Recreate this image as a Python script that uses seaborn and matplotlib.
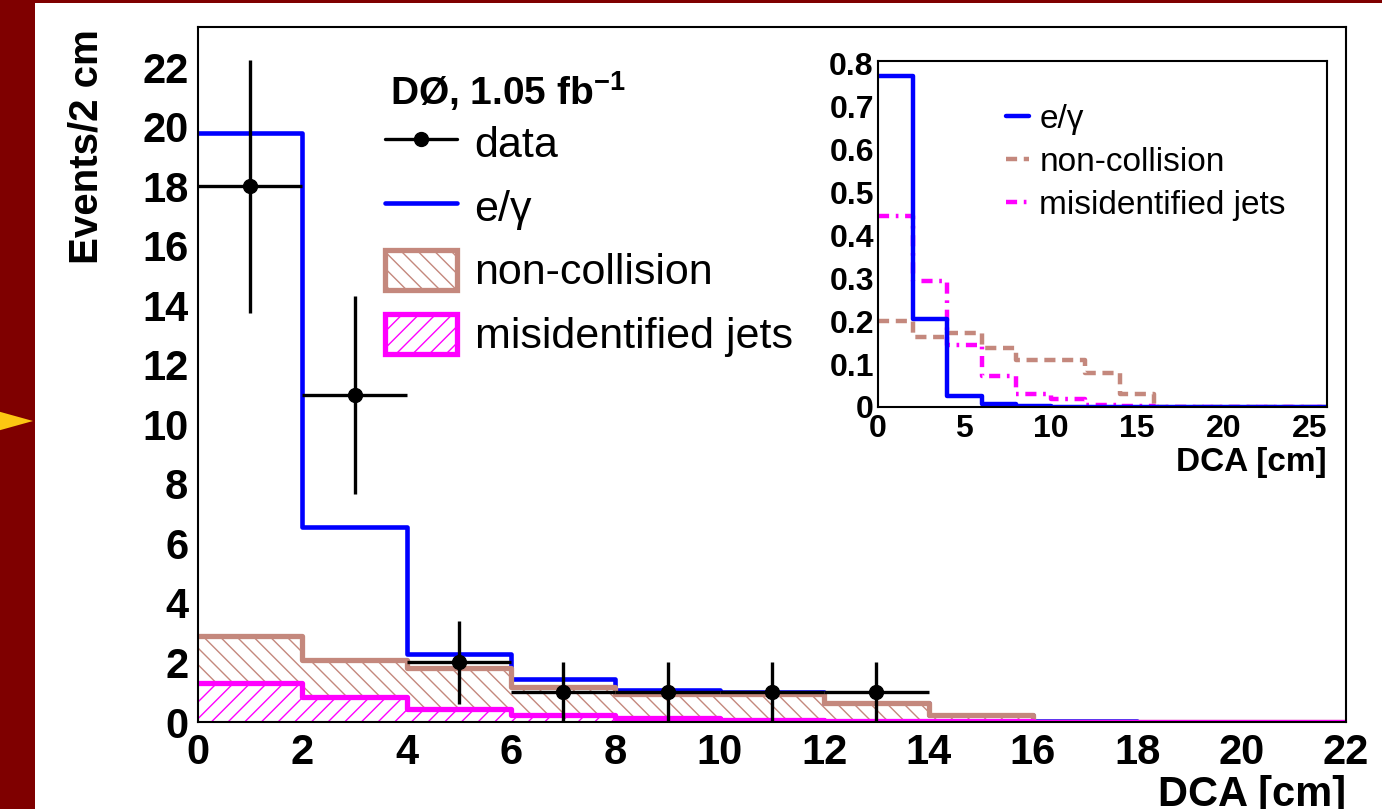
import numpy as np
import matplotlib
matplotlib.use("Agg")
import matplotlib.pyplot as plt
import matplotlib.patches as mpatches
from matplotlib.lines import Line2D
from matplotlib.ticker import MultipleLocator, FuncFormatter
import seaborn as sns

# ---- data ----
# main plot: 2 cm bins from 0 to 22
main_edges = [0, 2, 4, 6, 8, 10, 12, 14, 16, 18, 20, 22]
egamma_total = [19.8, 6.55, 2.3, 1.45, 1.07, 1.0, 0.63, 0.22, 0.02, 0.01, 0.01]
noncoll_total = [2.88, 2.08, 1.8, 1.18, 0.94, 0.94, 0.63, 0.22, 0.0, 0.0, 0.0]
misid_jets = [1.3, 0.85, 0.43, 0.22, 0.15, 0.08, 0.03, 0.02, 0.01, 0.01, 0.01]

data_x = [1, 3, 5, 7, 9, 11, 13]
data_y = [18, 11, 2, 1, 1, 1, 1]
data_err = [4.24, 3.32, 1.41, 1.0, 1.0, 1.0, 1.0]

# inset: normalised shapes, 2 cm bins from 0 to 26
ins_edges = [0, 2, 4, 6, 8, 10, 12, 14, 16, 18, 20, 22, 24, 26]
ins_egamma = [0.77, 0.205, 0.025, 0.007, 0.002, 0.001, 0, 0, 0, 0, 0, 0, 0]
ins_noncoll = [0.2, 0.163, 0.173, 0.138, 0.11, 0.11, 0.078, 0.03, 0, 0, 0, 0, 0]
ins_misid = [0.445, 0.293, 0.145, 0.073, 0.03, 0.019, 0.005, 0.002, 0, 0, 0, 0, 0]

BLUE = "#0000ff"
BROWN = "#c4887d"
MAGENTA = "#ff00ff"

sns.set_style("white")
plt.rcParams["font.family"] = ["Liberation Sans", "DejaVu Sans"]
plt.rcParams["mathtext.fontset"] = "custom"
plt.rcParams["mathtext.rm"] = "Liberation Sans"
plt.rcParams["mathtext.bf"] = "Liberation Sans:bold"
plt.rcParams["hatch.linewidth"] = 1.0
for key in ["text.color", "axes.labelcolor", "xtick.color", "ytick.color",
            "xtick.labelcolor", "ytick.labelcolor"]:
    plt.rcParams[key] = "black"

W, H = 1382, 809
fig = plt.figure(figsize=(W / 100, H / 100), dpi=100)
fig.patch.set_facecolor("#7f0000")
# white slide area and yellow pointer
fig.patches.append(mpatches.Rectangle((35 / W, 0), 1 - 35 / W, 1 - 3 / H,
                                      transform=fig.transFigure, facecolor="white",
                                      edgecolor="none", zorder=-10))
fig.patches.append(mpatches.Polygon([(-0.01, 1 - 408 / H), (33 / W, 1 - 421 / H),
                                     (-0.01, 1 - 434 / H)], closed=True,
                                    transform=fig.transFigure, facecolor="#fcc712",
                                    edgecolor="none", zorder=-5))


def px_rect(x0, y0, x1, y1):
    return [x0 / W, 1 - y1 / H, (x1 - x0) / W, (y1 - y0) / H]


ax = fig.add_axes(px_rect(198, 27, 1346, 722))
ax.set_facecolor("white")

centers = [(a + b) / 2 for a, b in zip(main_edges[:-1], main_edges[1:])]

# hatched areas
with plt.rc_context({"hatch.color": BROWN}):
    sns.histplot(x=centers, weights=noncoll_total, bins=main_edges, element="step",
                 fill=True, color="white", alpha=1, edgecolor=BROWN, linewidth=0,
                 hatch="\\\\", ax=ax)
with plt.rc_context({"hatch.color": MAGENTA}):
    sns.histplot(x=centers, weights=misid_jets, bins=main_edges, element="step",
                 fill=True, color="white", alpha=1, edgecolor=MAGENTA, linewidth=0,
                 hatch="//", ax=ax)

# outlines
sns.histplot(x=centers, weights=egamma_total, bins=main_edges, element="step",
             fill=False, color=BLUE, linewidth=3.3, ax=ax)
sns.histplot(x=centers, weights=noncoll_total, bins=main_edges, element="step",
             fill=False, color=BROWN, linewidth=3.8, ax=ax)
sns.histplot(x=centers, weights=misid_jets, bins=main_edges, element="step",
             fill=False, color=MAGENTA, linewidth=3.8, ax=ax)

ax.errorbar(data_x, data_y, xerr=1, yerr=data_err, fmt="o", color="black",
            ms=10, elinewidth=2.4, capsize=0, zorder=10)

ax.set_xlim(0, 22)
ax.set_ylim(0, 23.36)
ax.xaxis.set_major_locator(MultipleLocator(2))
ax.xaxis.set_minor_locator(MultipleLocator(0.5))
ax.yaxis.set_major_locator(MultipleLocator(2))
ax.yaxis.set_minor_locator(MultipleLocator(0.5))
ax.tick_params(which="both", direction="in", width=1.5, colors="black")
ax.tick_params(axis="y", which="major", length=23, pad=7, labelsize=30)
ax.tick_params(axis="y", which="minor", length=11)
ax.tick_params(axis="x", which="major", length=16, pad=8, labelsize=30)
ax.tick_params(axis="x", which="minor", length=7)
for lab in ax.get_xticklabels() + ax.get_yticklabels():
    lab.set_fontweight("bold")
for sp in ax.spines.values():
    sp.set_linewidth(1.5)
    sp.set_color("black")
ax.set_xlabel("")
ax.set_ylabel("")

fig.text(1346 / W, 1 - 775 / H, "DCA [cm]", ha="right", va="top",
         fontsize=30, fontweight="bold")
fig.text(86 / W, 1 - 29 / H, "Events/2 cm", ha="center", va="top", rotation=90,
         fontsize=29, fontweight="bold")

# main legend
fig.text(390 / W, 1 - 91 / H, r"DØ, 1.05 fb$^{\mathbf{-1}}$", ha="left", va="center",
         fontsize=28, fontweight="bold")
handles = [
    Line2D([], [], color="black", lw=2.4, marker="o", ms=10),
    Line2D([], [], color=BLUE, lw=3.3),
    mpatches.Patch(facecolor="white", edgecolor=BROWN, hatch="\\\\", lw=3.8),
    mpatches.Patch(facecolor="white", edgecolor=MAGENTA, hatch="//", lw=3.8),
]
labels = ["data", "e/γ", "non-collision", "misidentified jets"]
fig.legend(handles, labels, loc="upper left", bbox_to_anchor=(385 / W, 1 - 122 / H),
           bbox_transform=fig.transFigure, frameon=False, fontsize=31,
           handlelength=1.68, handleheight=1.05, handletextpad=0.4,
           labelspacing=0.47, borderpad=0, borderaxespad=0)

# ---- inset ----
ins = fig.add_axes(px_rect(878, 61, 1327, 407))
ins.set_facecolor("white")
ins_centers = [(a + b) / 2 for a, b in zip(ins_edges[:-1], ins_edges[1:])]
sns.histplot(x=ins_centers, weights=ins_noncoll, bins=ins_edges, element="step",
             fill=False, color=BROWN, linewidth=3.2, dashes=(2.5, 1.5), ax=ins)
sns.histplot(x=ins_centers, weights=ins_misid, bins=ins_edges, element="step",
             fill=False, color=MAGENTA, linewidth=3.2, dashes=(2.5, 1.5, 0.6, 1.5), ax=ins)
sns.histplot(x=ins_centers, weights=ins_egamma, bins=ins_edges, element="step",
             fill=False, color=BLUE, linewidth=3.2, ax=ins)
ins.set_xlim(0, 26)
ins.set_ylim(0, 0.805)
ins.xaxis.set_major_locator(MultipleLocator(5))
ins.xaxis.set_minor_locator(MultipleLocator(1))
ins.yaxis.set_major_locator(MultipleLocator(0.1))
ins.yaxis.set_minor_locator(MultipleLocator(0.02))
ins.yaxis.set_major_formatter(FuncFormatter(lambda v, p: "%g" % round(v, 2)))
ins.tick_params(which="both", direction="in", width=1.3, colors="black")
ins.tick_params(which="major", length=11, labelsize=23)
ins.tick_params(which="minor", length=6)
ins.tick_params(axis="y", pad=3)
ins.tick_params(axis="x", pad=5)
for lab in ins.get_xticklabels() + ins.get_yticklabels():
    lab.set_fontweight("bold")
for sp in ins.spines.values():
    sp.set_linewidth(1.5)
    sp.set_color("black")
ins.set_xlabel("")
ins.set_ylabel("")
fig.text(1327 / W, 1 - 463 / H, "DCA [cm]", ha="right", va="center",
         fontsize=24, fontweight="bold")

ins_handles = [
    Line2D([], [], color=BLUE, lw=3.2),
    Line2D([], [], color=BROWN, lw=3.2, dashes=(2.5, 1.5)),
    Line2D([], [], color=MAGENTA, lw=3.2, dashes=(2.5, 1.5, 0.6, 1.5)),
]
ins_labels = ["e/γ", "non-collision", "misidentified jets"]
ins.legend(ins_handles, ins_labels, loc="upper left",
           bbox_to_anchor=(1006 / W, 1 - 104 / H), bbox_transform=fig.transFigure,
           frameon=False, fontsize=24, handlelength=0.7, handletextpad=0.3,
           labelspacing=0.36, borderpad=0, borderaxespad=0)

fig.savefig("out.png", dpi=100, facecolor=fig.get_facecolor())
